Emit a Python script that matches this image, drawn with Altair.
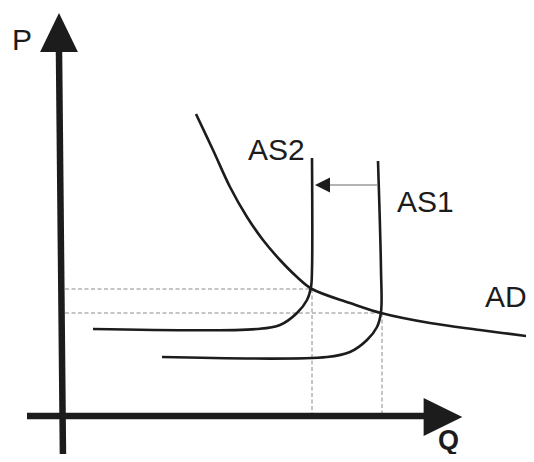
import altair as alt
import pandas as pd

# Schematic AD / AS diagram, coordinates in (Q, P) units with origin at the axes crossing
ad_q = [133, 150, 167, 184, 200, 217, 234, 249, 287, 318, 367, 417, 471]
ad_p = [302, 266, 229, 199, 176, 156, 139, 127, 113, 103, 93, 86, 79]

as2_q = [30, 194, 217, 234, 244, 248, 249, 249]
as2_p = [87, 87, 91, 103, 116, 129, 146, 258]

as1_q = [99, 264, 287, 304, 314, 318, 318, 315]
as1_p = [59, 59, 64, 76, 89, 104, 146, 255]

# axis lines (start/end)
axis_q1 = [0, -36]
axis_p1 = [-44, 0]
axis_q2 = [-4, 367]
axis_p2 = [364, 0]

# dashed guide lines
dash_q1 = [2, 2, 249, 319]
dash_p1 = [127, 103, 127, 103]
dash_q2 = [249, 318, 249, 319]
dash_p2 = [127, 103, 0, 0]

# shift arrow shaft
shaft_q1 = [314]
shaft_q2 = [266]
shaft_p = [231]

# arrow heads: centre, shape, size
head_q = [-4, 380, 259.5]
head_p = [383.5, -1, 231]
head_shape = ["M0,-1L-0.97,1L0.97,1Z", "M1,0L-1,-0.98L-1,0.98Z", "M-1,0L1,-1L1,1Z"]
head_size = [1521, 1498, 225]

# labels
lab_text = ["P", "AS2", "AS1", "AD"]
lab_q = [-51, 185, 334, 422]
lab_p = [366, 256, 204, 109]
q_label = ["Q"]
q_label_q = [375]
q_label_p = [-33]

X0, X1 = -55, 463
Y0, Y1 = -38, 408
xs = alt.Scale(domain=[X0, X1], nice=False, zero=False)
ys = alt.Scale(domain=[Y0, Y1], nice=False, zero=False)
INK = "#1c1c1c"


def xq(f="q"):
    return alt.X(f"{f}:Q", scale=xs, axis=None)


def yp(f="p"):
    return alt.Y(f"{f}:Q", scale=ys, axis=None)


def curve(qs, ps):
    df = pd.DataFrame({"q": qs, "p": ps, "i": list(range(len(qs)))})
    return alt.Chart(df).mark_line(
        color=INK, strokeWidth=2.6, interpolate="catmull-rom", clip=True
    ).encode(x=xq(), y=yp(), order="i:O")


axes_df = pd.DataFrame({"q": axis_q1, "p": axis_p1, "q2": axis_q2, "p2": axis_p2})
axes = alt.Chart(axes_df).mark_rule(color=INK, strokeWidth=6.5, clip=True).encode(
    x=xq(), y=yp(), x2="q2:Q", y2="p2:Q"
)

dash_df = pd.DataFrame({"q": dash_q1, "p": dash_p1, "q2": dash_q2, "p2": dash_p2})
dashes = alt.Chart(dash_df).mark_rule(
    color="#8a8a8a", strokeWidth=1, strokeDash=[4, 2.5]
).encode(x=xq(), y=yp(), x2="q2:Q", y2="p2:Q")

shaft_df = pd.DataFrame({"q": shaft_q1, "q2": shaft_q2, "p": shaft_p})
shaft = alt.Chart(shaft_df).mark_rule(color="#9a9a9a", strokeWidth=1.5).encode(
    x=xq(), x2="q2:Q", y=yp()
)

head_layers = []
for hq, hp, hs, hz in zip(head_q, head_p, head_shape, head_size):
    hdf = pd.DataFrame({"q": [hq], "p": [hp]})
    head_layers.append(
        alt.Chart(hdf).mark_point(
            shape=hs, size=hz, filled=True, color=INK, opacity=1, strokeWidth=0
        ).encode(x=xq(), y=yp())
    )

lab_df = pd.DataFrame({"t": lab_text, "q": lab_q, "p": lab_p})
labels = alt.Chart(lab_df).mark_text(
    font="Liberation Sans", fontSize=30, color=INK, align="left", baseline="alphabetic"
).encode(x=xq(), y=yp(), text="t:N")

qlab_df = pd.DataFrame({"t": q_label, "q": q_label_q, "p": q_label_p})
qlab = alt.Chart(qlab_df).mark_text(
    font="Liberation Sans", fontSize=27, fontWeight="bold", color=INK,
    align="left", baseline="alphabetic"
).encode(x=xq(), y=yp(), text="t:N")

chart = alt.layer(
    dashes,
    shaft,
    curve(ad_q, ad_p),
    curve(as2_q, as2_p),
    curve(as1_q, as1_p),
    axes,
    *head_layers,
    labels,
    qlab,
).properties(
    width=X1 - X0, height=Y1 - Y0, padding=0, autosize=alt.AutoSizeParams(type="none")
).configure_view(stroke=None)

chart.save("out.html", embed_options={"renderer": "svg", "actions": False})
